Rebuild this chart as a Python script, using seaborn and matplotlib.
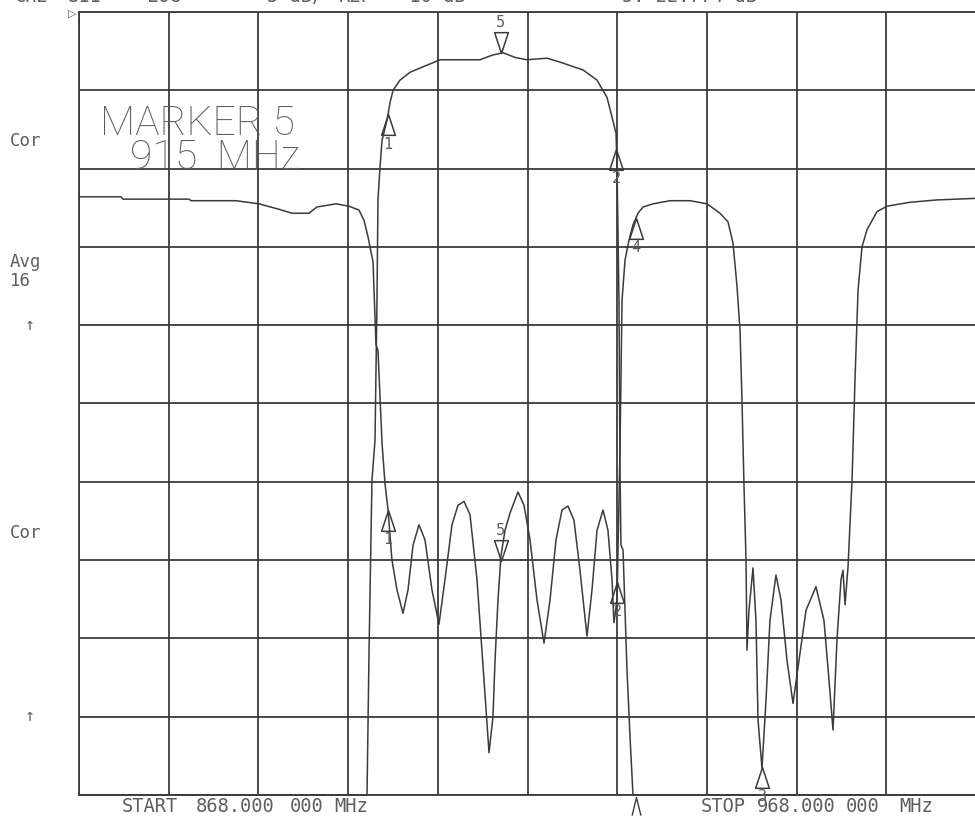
import numpy as np
import pandas as pd
import matplotlib
matplotlib.use("Agg")
import matplotlib.pyplot as plt
from matplotlib.path import Path
import seaborn as sns

# ---- sweep / graticule ------------------------------------------------------
START_MHZ = 868.0
STOP_MHZ = 968.0
MHZ_PER_DIV = 10.0
N_DIV = 10

# ---- channel 1 : transmission, level in graticule divisions (0 = bottom line)
ch1_mhz = [868.00, 899.50, 900.00, 900.11, 900.33, 900.66, 901.00, 901.22, 901.33,
           901.56, 901.78, 902.34, 902.67, 903.01, 903.79, 904.90, 906.35, 908.25,
           912.70, 914.10, 915.27, 916.60, 917.94, 920.17, 921.62, 924.19, 925.75,
           926.86, 927.42, 927.87, 927.98, 928.20, 928.31, 928.42, 928.65, 929.09,
           929.43, 929.76, 930.20, 968.00]
ch1_div = [-1.00, -1.00, -0.10, 0.00, 1.81, 4.02, 4.53, 6.32, 7.60,
           8.02, 8.36, 8.62, 8.84, 9.00, 9.13, 9.23, 9.30, 9.39,
           9.39, 9.45, 9.48, 9.42, 9.39, 9.41, 9.36, 9.26, 9.13,
           8.91, 8.66, 8.45, 8.02, 6.32, 4.15, 3.19, 3.13, 1.60,
           0.74, 0.00, -0.50, -1.00]

# ---- channel 2 : reflection
ch2_mhz = [868.00, 872.68, 872.91, 880.26, 880.49, 885.50, 888.07, 890.30, 891.75,
           893.64, 894.53, 896.65, 898.10, 899.22, 899.77, 900.22, 900.44, 900.78,
           900.89, 901.11, 901.33, 901.78, 902.11, 902.45, 902.89, 903.45, 904.12,
           904.68, 905.24, 905.90, 906.57, 907.35, 908.13, 908.80, 909.58, 910.25,
           910.92, 911.59, 912.37, 913.15, 913.71, 914.15, 914.38, 914.71, 915.04,
           915.49, 916.05, 916.94, 917.61, 918.28, 919.06, 919.84, 920.51, 921.18,
           921.85, 922.51, 923.18, 923.85, 924.63, 925.19, 925.75, 926.42, 926.97,
           927.42, 927.64, 927.98, 928.31, 928.54, 928.87, 929.32, 929.76, 930.32,
           930.88, 931.99, 933.89, 936.12, 938.01, 939.46, 940.35, 940.91, 941.36,
           941.69, 941.91, 942.14, 942.36, 942.47, 942.69, 943.14, 943.47, 943.70,
           944.14, 944.59, 945.03, 945.70, 946.26, 946.93, 947.60, 948.27, 949.05,
           950.16, 951.05, 951.61, 952.06, 952.50, 952.95, 953.17, 953.40, 953.73,
           954.18, 954.51, 954.85, 955.29, 955.85, 956.96, 958.08, 960.64, 963.65,
           968.00]
ch2_div = [7.64, 7.64, 7.61, 7.61, 7.59, 7.59, 7.55, 7.48, 7.43,
           7.43, 7.51, 7.55, 7.52, 7.47, 7.34, 7.13, 7.00, 6.81,
           6.45, 5.75, 5.68, 4.50, 3.98, 3.64, 3.00, 2.62, 2.32,
           2.62, 3.19, 3.45, 3.26, 2.62, 2.18, 2.75, 3.45, 3.70,
           3.75, 3.58, 2.75, 1.47, 0.54, 1.00, 1.72, 2.49, 3.05,
           3.38, 3.60, 3.87, 3.70, 3.26, 2.49, 1.94, 2.49, 3.26,
           3.64, 3.69, 3.51, 2.87, 2.03, 2.62, 3.38, 3.64, 3.38,
           2.75, 2.20, 2.49, 4.41, 6.32, 6.83, 7.09, 7.28, 7.43,
           7.51, 7.55, 7.59, 7.59, 7.55, 7.43, 7.32, 7.05, 6.49,
           5.94, 5.04, 3.93, 3.00, 1.85, 2.36, 2.90, 2.23, 0.96,
           0.34, 1.21, 2.23, 2.81, 2.49, 1.72, 1.17, 1.72, 2.36,
           2.66, 2.23, 1.47, 0.83, 1.98, 2.75, 2.87, 2.43, 2.91,
           4.02, 5.30, 6.45, 7.00, 7.22, 7.45, 7.52, 7.57, 7.60,
           7.62]

# ---- markers
ch1_marker_ids = ["1", "5", "2"]
ch1_marker_mhz = [902.45, 915.0, 927.92]
ch1_offscale_mhz = [930.1]
ch2_marker_ids = ["1", "5", "2", "4", "3"]
ch2_marker_mhz = [902.45, 915.0, 928.02, 930.1, 944.15]
active_marker = "5"

# ---- annotation text
header_items = [("CH2", 15), ("S11", 68), ("LOG", 147), ("5 dB/", 267),
                ("REF", 339), ("-10 dB", 398), ("5:-22.774 dB", 622)]
side_labels = [("Cor", 141), ("Avg", 262), ("16", 281), ("Cor", 533)]
ref_arrows = [325, 716]

INK = "#3b3b3b"
TEXT = "#5e5e5e"
MONO = "DejaVu Sans Mono"
W, H = 975, 817

sns.set_theme(style="white")
plt.rcParams["font.family"] = ["DejaVu Sans"]

fig = plt.figure(figsize=(W / 100, H / 100), dpi=100)
fig.patch.set_facecolor("white")
ax = fig.add_axes([79 / W, 1 - 795 / H, 897 / W, 783 / H])
ax.set_facecolor("white")


def trace_frame(mhz, div):
    # off-scale points are pinned to the graticule edge, as the analyzer does
    return pd.DataFrame({"MHz": mhz, "div": np.clip(np.asarray(div, float), 0, N_DIV)})


ch1 = trace_frame(ch1_mhz, ch1_div)
ch2 = trace_frame(ch2_mhz, ch2_div)

for df in (ch2, ch1):
    sns.lineplot(data=df, x="MHz", y="div", ax=ax, color=INK, lw=1.1,
                 sort=False, estimator=None, clip_on=False, zorder=3)

ax.set_xlim(START_MHZ, STOP_MHZ)
ax.set_ylim(0, N_DIV)
ax.set_xticks(np.arange(START_MHZ, STOP_MHZ + 1, MHZ_PER_DIV))
ax.set_yticks(np.arange(0, N_DIV + 1))
ax.grid(True, color=INK, lw=1.3)
ax.tick_params(length=0, labelbottom=False, labelleft=False)
ax.set_xlabel("")
ax.set_ylabel("")
for s in ax.spines.values():
    s.set_color(INK)
    s.set_linewidth(1.3)

# marker glyphs: apex sits on the trace
codes = [Path.MOVETO, Path.LINETO, Path.LINETO, Path.CLOSEPOLY]
TRI_UP = Path([(0, 0), (-0.33, -1), (0.33, -1), (0, 0)], codes)
TRI_DOWN = Path([(0, 0), (-0.33, 1), (0.33, 1), (0, 0)], codes)
CARET = Path([(-0.22, -1), (0, -0.1), (0.22, -1)],
             [Path.MOVETO, Path.LINETO, Path.LINETO])


def draw_markers(df, ids, freqs):
    levels = np.interp(freqs, df["MHz"], df["div"])
    for mid, f, lv in zip(ids, freqs, levels):
        active = mid == active_marker
        ax.plot([f], [lv], marker=TRI_DOWN if active else TRI_UP, ms=30,
                mfc="none", mec=INK, mew=1.1, ls="none", zorder=4, clip_on=False)
        ax.annotate(mid, (f, lv), xytext=(0, 17 if active else -16),
                    textcoords="offset points", ha="center",
                    va="bottom" if active else "top",
                    fontsize=11, family=MONO, color=TEXT, zorder=5)


draw_markers(ch1, ch1_marker_ids, ch1_marker_mhz)
draw_markers(ch2, ch2_marker_ids, ch2_marker_mhz)
for f in ch1_offscale_mhz:
    ax.plot([f], [0], marker=CARET, ms=29, mfc="none", mec=INK, mew=1.0,
            ls="none", clip_on=False, zorder=4)

ax.annotate("\u25b7", (START_MHZ, N_DIV), xytext=(-2, -1), textcoords="offset points",
            ha="right", va="center", fontsize=8, color=TEXT)


def fig_text(x, y, s, **kw):
    fig.text(x / W, 1 - y / H, s, **kw)


# channel header (runs off the top edge)
for s, x in header_items:
    fig_text(x, 2.5, s, family=MONO, fontsize=13.5, color=TEXT, va="baseline")

for s, y in side_labels:
    fig_text(10, y, s, family=MONO, fontsize=12.5, color=TEXT, va="center")
for y in ref_arrows:
    fig_text(30, y, "\u2191", family=MONO, fontsize=12, color=TEXT,
             va="center", ha="center")

# active marker readout
i5 = ch1_marker_ids.index(active_marker)
big = dict(family=["Roboto", "DejaVu Sans"], fontweight="light", fontsize=29.5,
           color=TEXT, va="baseline")
fig_text(100, 135, f"MARKER {active_marker}", **big)
fig_text(130, 169, f"{ch1_marker_mhz[i5]:.0f}  MHz", **big)

# sweep limits
start_s = f"{START_MHZ:.3f}"
stop_s = f"{STOP_MHZ:.3f}"
for s, x in [("START", 122), (start_s, 196), ("000", 290), ("MHz", 334),
             ("STOP", 701), (stop_s, 757), ("000", 846), ("MHz", 899)]:
    fig_text(x, 806, s, family=MONO, fontsize=13.5, color=TEXT, va="center")

fig.savefig("out.png", dpi=100, facecolor="white")
